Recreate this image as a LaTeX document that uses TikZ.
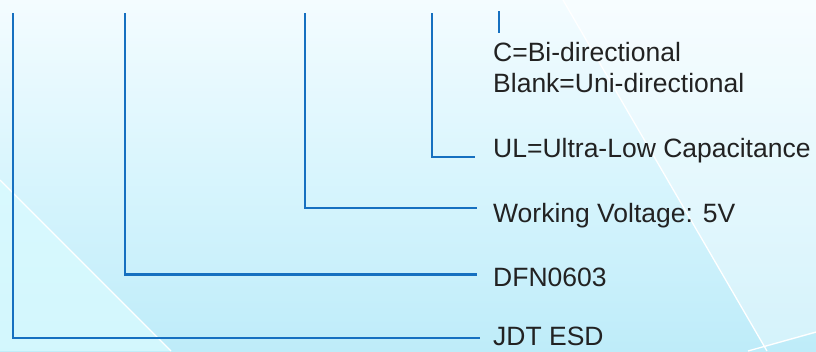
\documentclass[tikz,border=0pt]{standalone}
\usepackage{fontspec}
\setmainfont{Liberation Sans}
\definecolor{bgtop}{RGB}{244,252,255}
\definecolor{bgmid}{RGB}{216,245,253}
\definecolor{bgbot}{RGB}{190,236,249}
\definecolor{lightreg}{RGB}{218,251,255}
\definecolor{conn}{RGB}{22,112,192}
\definecolor{txt}{RGB}{34,34,34}
\tikzset{
  conline/.style={draw=conn, line width=2.8pt, line cap=butt, line join=miter},
  lbl/.style={anchor=base west, inner sep=0pt, text=txt, font=\fontsize{26.5}{30}\selectfont},
  glint/.style={draw=white, line width=1.3pt}
}
\begin{document}
\begin{tikzpicture}[x=1pt,y=-1pt]
% background
\shade[top color=bgtop, bottom color=bgbot, middle color=bgmid] (0,0) rectangle (816,351);
\useasboundingbox (0,0) rectangle (816,351);
% lighter regions
\fill[lightreg, opacity=0.75] (0,180) -- (171,351) -- (0,351) -- cycle;
\fill[white, opacity=0.35] (563,0) -- (816,0) -- (816,333) -- (765,347) -- cycle;
% glints
\draw[glint] (0,180) -- (171,351);
\draw[glint] (563,0) -- (767,351);
\draw[glint] (748,351) -- (816,332);
% labels
\node[lbl] (cbi) at (493,61) {C=Bi-directional};
\node[lbl] (blank) at (493,92) {Blank=Uni-directional};
\node[lbl] (ul) at (493,157) {UL=Ultra-Low Capacitance};
\node[lbl] (wv) at (493,222) {Working Voltage: 5V};
\node[lbl] (dfn) at (493,286) {DFN0603};
\node[lbl] (jdt) at (493,345.5) {JDT ESD};
% connector endpoints
\coordinate (s1) at (13,13);
\coordinate (e1) at (480,338);
\coordinate (s2) at (125,13);
\coordinate (e2) at (477,274.5);
\coordinate (s3) at (305,13);
\coordinate (e3) at (477,208);
\coordinate (s4) at (432,13);
\coordinate (e4) at (475,157);
\coordinate (s5) at (499,11);
\coordinate (e5) at (499,33);
% connectors
\draw[conline] (s1) |- (e1);
\draw[conline] (s2) |- (e2);
\draw[conline] (s3) |- (e3);
\draw[conline] (s4) |- (e4);
\draw[conline] (s5) -- (e5);
\end{tikzpicture}
\end{document}
